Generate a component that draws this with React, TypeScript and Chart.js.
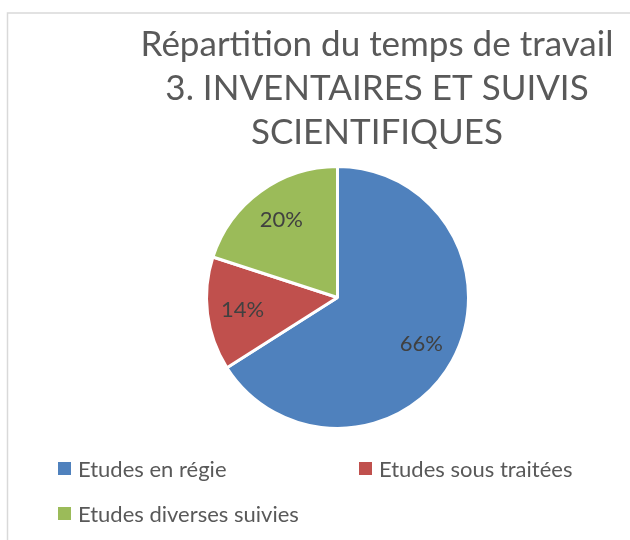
import React, { useEffect, useRef } from "react";
import { Chart, registerables } from "chart.js";

Chart.register(...registerables);

const TITLE_LINES = ["Répartition du temps de travail", "3. INVENTAIRES ET SUIVIS", "SCIENTIFIQUES"];
const CATEGORIES = ["Etudes en régie", "Etudes sous traitées", "Etudes diverses suivies"];
const VALUES = [66, 14, 20];
const COLORS = ["#4F81BD", "#C0504D", "#9BBB59"];

const FONT = "Lato, 'Liberation Sans', Arial, sans-serif";

const decorPlugin = {
  id: "decor",
  beforeDraw(chart: any) {
    const ctx = chart.ctx;
    ctx.save();
    ctx.fillStyle = "#ffffff";
    ctx.fillRect(0, 0, chart.width, chart.height);
    ctx.strokeStyle = "#D9D9D9";
    ctx.lineWidth = 1.5;
    ctx.strokeRect(7.5, 13, chart.width + 20, chart.height + 20);
    ctx.restore();
  },
  afterDraw(chart: any) {
    const ctx = chart.ctx;
    ctx.save();
    // title
    ctx.fillStyle = "#595959";
    ctx.font = `35px ${FONT}`;
    ctx.textAlign = "center";
    ctx.textBaseline = "alphabetic";
    TITLE_LINES.forEach((line, i) => {
      ctx.fillText(line, 377, 56 + i * 44);
    });
    // data labels
    const meta = chart.getDatasetMeta(0);
    const data = chart.data.datasets[0].data as number[];
    const total = data.reduce((a, b) => a + b, 0);
    ctx.font = `22px ${FONT}`;
    ctx.fillStyle = "#404040";
    ctx.textBaseline = "middle";
    meta.data.forEach((arc: any, i: number) => {
      const mid = (arc.startAngle + arc.endAngle) / 2;
      const r = arc.outerRadius * 0.73;
      const x = arc.x + Math.cos(mid) * r;
      const y = arc.y + Math.sin(mid) * r;
      ctx.fillText(Math.round((data[i] / total) * 100) + "%", x, y);
    });
    // legend
    const cols = [58, 359];
    const rows = [468.5, 513.5];
    ctx.textAlign = "left";
    ctx.font = `22px ${FONT}`;
    (chart.data.labels as string[]).forEach((lab, i) => {
      const x = cols[i % 2];
      const y = rows[Math.floor(i / 2)];
      ctx.fillStyle = COLORS[i];
      ctx.fillRect(x, y - 6.5, 13, 13);
      ctx.fillStyle = "#595959";
      ctx.fillText(lab, x + 20, y + 1);
    });
    ctx.restore();
  },
};

export default function App() {
  const ref = useRef<HTMLCanvasElement | null>(null);
  useEffect(() => {
    if (!ref.current) return;
    const chart = new Chart(ref.current, {
      type: "pie",
      data: {
        labels: CATEGORIES,
        datasets: [
          {
            data: VALUES,
            backgroundColor: COLORS,
            borderColor: "#ffffff",
            borderWidth: 3,
          },
        ],
      },
      options: {
        responsive: false,
        animation: false,
        devicePixelRatio: 1,
        layout: { padding: { left: 205, right: 160, top: 165, bottom: 110 } },
        plugins: {
          legend: { display: false },
          title: { display: false },
          tooltip: { enabled: false },
        },
      },
      plugins: [decorPlugin],
    });
    return () => chart.destroy();
  }, []);
  return (
    <div style={{ position: "absolute", left: 0, top: 0, width: 630, height: 540, background: "#fff" }}>
      <canvas ref={ref} width={630} height={540} style={{ display: "block" }} />
    </div>
  );
}
